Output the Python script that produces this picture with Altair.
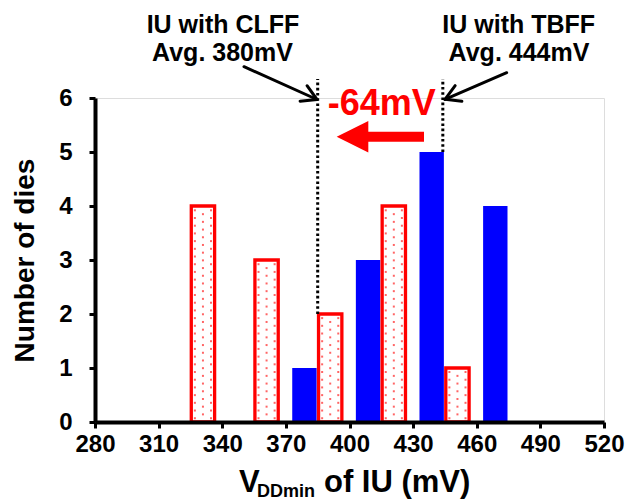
import math
import altair as alt
import pandas as pd

# ---------------- data ----------------
bin_centers = [325, 355, 385, 415, 445, 475]      # mV, centre of each 30 mV bin
tbff_counts = [0, 0, 1, 3, 5, 4]                  # IU with TBFF (blue)
clff_counts = [4, 3, 2, 4, 1, 0]                  # IU with CLFF (red, dotted)
x_ticks = [280, 310, 340, 370, 400, 430, 460, 490, 520]
y_ticks = [0, 1, 2, 3, 4, 5, 6]
clff_line_x = 385
tbff_line_x = 444
clff_text = ["IU with CLFF", "Avg. 380mV"]
tbff_text = ["IU with TBFF", "Avg. 444mV"]
delta_text = "-64mV"

# ---------------- layout / style ----------------
W, H = 509, 324
FONT = "Liberation Sans"
BLUE = "#0000ff"
RED = "#ff0000"
LINE_TOP = 6.35

xs = alt.Scale(domain=[280, 520], nice=False, zero=False)
ys = alt.Scale(domain=[0, 6], nice=False)

blue_df = pd.DataFrame({"c": bin_centers, "n": tbff_counts})
blue_df = blue_df[blue_df.n > 0].copy()
blue_df["x0"] = blue_df.c - 12
blue_df["x1"] = blue_df.c - 0.5

red_df = pd.DataFrame({"c": bin_centers, "n": clff_counts})
red_df = red_df[red_df.n > 0].copy()
red_df["x0"] = red_df.c + 0.4
red_df["x1"] = red_df.c + 11.4

# dot texture inside the red bars
dots = []
for _, r in red_df.iterrows():
    cols = [r.x0 + 1.7, r.x0 + 5.5, r.x0 + 9.3]
    step = 0.1426
    for ci, cx in enumerate(cols):
        y = 0.07 + (step / 2 if ci == 1 else 0)
        while y < r.n - 0.05:
            dots.append({"x": cx, "y": y})
            y += step
dots_df = pd.DataFrame(dots)

lines_df = pd.DataFrame({
    "x": [clff_line_x, tbff_line_x],
    "y0": [clff_counts[bin_centers.index(385)], tbff_counts[bin_centers.index(445)]],
    "y1": [LINE_TOP, LINE_TOP],
})

X_AXIS = alt.Axis(values=x_ticks, format="d", labelFont=FONT, labelFontSize=24, labelFontWeight="bold",
                  labelColor="black", domainColor="black", domainWidth=4, tickColor="black",
                  tickWidth=3, tickSize=6, labelPadding=4, grid=False, zindex=1, labelFlush=False)
Y_AXIS = alt.Axis(values=y_ticks, format="d", labelFont=FONT, labelFontSize=24, labelFontWeight="bold",
                  labelColor="black", domainColor="black", domainWidth=4, tickColor="black",
                  tickWidth=3, tickSize=6, labelPadding=17, grid=False, zindex=1,
                  titleFont=FONT, titleFontSize=28, titleFontWeight="bold", titleColor="black",
                  titleAngle=270, titleAlign="center", titleBaseline="alphabetic",
                  titleX=-62, titleY=162)
YT = "Number of dies"

blue = alt.Chart(blue_df).mark_rect(color=BLUE).encode(
    x=alt.X("x0:Q", scale=xs, axis=X_AXIS, title=""),
    x2="x1:Q",
    y=alt.Y("n:Q", scale=ys, axis=Y_AXIS, title=YT),
    y2=alt.datum(0),
)

red = alt.Chart(red_df).mark_rect(fill="white", stroke=RED, strokeWidth=3.3).encode(
    x=alt.X("x0:Q", scale=xs, title=""),
    x2="x1:Q",
    y=alt.Y("n:Q", scale=ys, title=YT),
    y2=alt.datum(0),
)

dot_layer = alt.Chart(dots_df).mark_square(color="#ff4a4a", size=4, opacity=0.85).encode(
    x=alt.X("x:Q", scale=xs, title=""),
    y=alt.Y("y:Q", scale=ys, title=YT),
)

vlines = alt.Chart(lines_df).mark_rule(color="black", strokeWidth=3, strokeDash=[2.6, 2.6]).encode(
    x=alt.X("x:Q", scale=xs, title=""),
    y=alt.Y("y0:Q", scale=ys, title=YT),
    y2="y1:Q",
)

one = pd.DataFrame({"k": [0]})


def text(s, x, y, size, color="black", align="center"):
    return alt.Chart(one).mark_text(
        text=s, font=FONT, fontSize=size, fontWeight="bold", color=color,
        align=align, baseline="alphabetic"
    ).encode(x=alt.value(x), y=alt.value(y))


def seg(x1, y1, x2, y2, width=3, color="black"):
    return alt.Chart(one).mark_rule(color=color, strokeWidth=width, strokeCap="round").encode(
        x=alt.value(x1), y=alt.value(y1), x2=alt.value(x2), y2=alt.value(y2))


def arrow(tail, tip, head=17, ang=30):
    dx, dy = tail[0] - tip[0], tail[1] - tip[1]
    L = math.hypot(dx, dy)
    ux, uy = dx / L, dy / L
    out = [seg(tail[0], tail[1], tip[0], tip[1])]
    for s in (1, -1):
        a = math.radians(ang) * s
        hx = ux * math.cos(a) - uy * math.sin(a)
        hy = ux * math.sin(a) + uy * math.cos(a)
        out.append(seg(tip[0], tip[1], tip[0] + hx * head, tip[1] + hy * head))
    return out


annos = [
    text(clff_text[0], 128, -65, 25),
    text(clff_text[1], 127.5, -37, 25),
    text(tbff_text[0], 423.7, -65, 25),
    text(tbff_text[1], 424, -37, 25),
    text(delta_text, 286.7, 17, 36, color=RED),
    # x-axis title with subscript
    text("V", 144, 394, 31, align="left"),
    text("DDmin", 162, 398.5, 18, align="left"),
    text("of IU (mV)", 229, 394, 31, align="left"),
]
annos += arrow((149, -31.3), (222, 1.5))
annos += arrow((411.7, -25.3), (350, 1.3))

red_shaft = alt.Chart(one).mark_rule(color=RED, strokeWidth=10, strokeCap="butt").encode(
    x=alt.value(268), x2=alt.value(329), y=alt.value(38.7))
red_head = alt.Chart(one).mark_point(
    shape="M -1 0 L 1 -1 L 1 1 Z", size=1000, filled=True, color=RED, opacity=1, strokeWidth=0
).encode(x=alt.value(257.5), y=alt.value(38.7))

chart = alt.layer(blue, red, dot_layer, vlines, red_shaft, red_head, *annos).properties(
    width=W, height=H,
    autosize=alt.AutoSizeParams(type="none"),
    padding={"left": 95, "top": 98, "right": 23, "bottom": 77},
).configure_view(stroke=None).configure(background="white")

chart.save("out.html", embed_options={"renderer": "svg", "actions": False})
